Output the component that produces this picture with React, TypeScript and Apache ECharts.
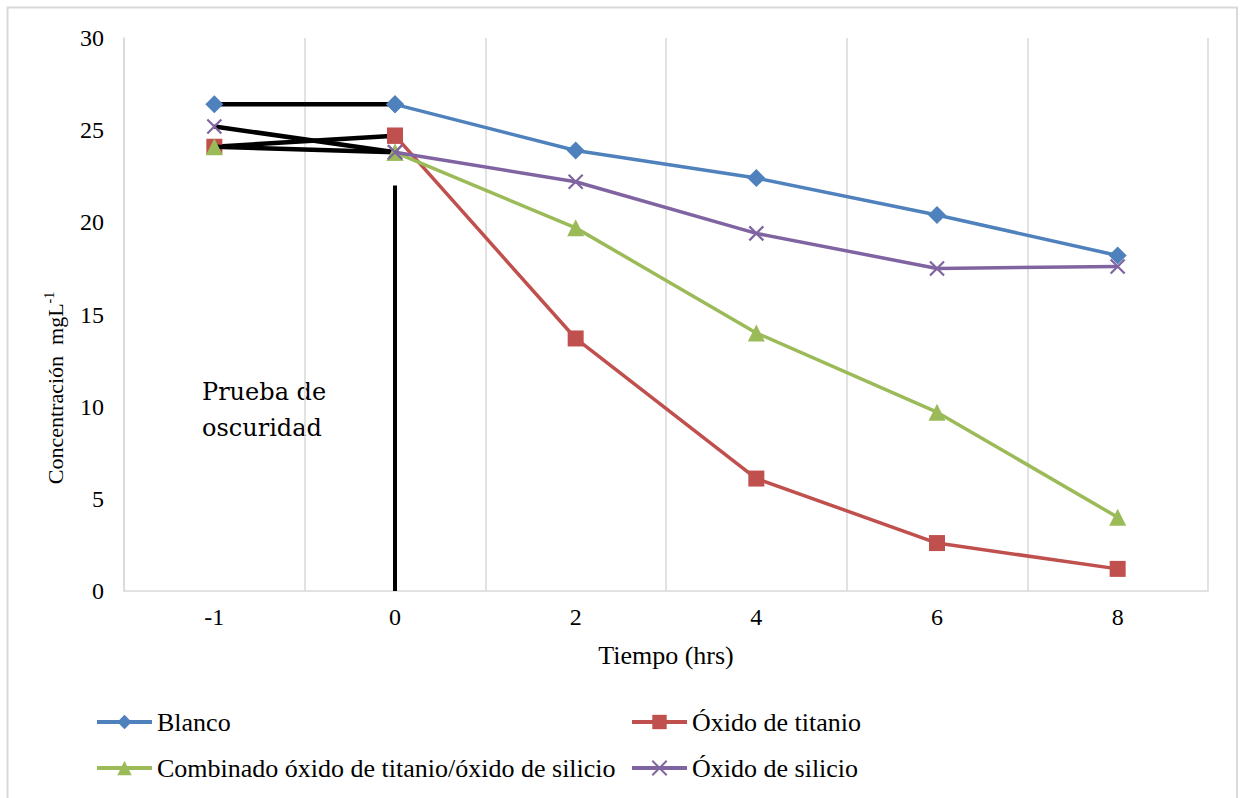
import React, { useEffect, useRef } from "react";
import * as echarts from "echarts";

const categories = ["-1", "0", "2", "4", "6", "8"];
const blanco = [26.4, 26.4, 23.9, 22.4, 20.4, 18.2];
const titanio = [24.1, 24.7, 13.7, 6.1, 2.6, 1.2];
const combinado = [24.1, 23.8, 19.7, 14.0, 9.7, 4.0];
const silicio = [25.2, 23.8, 22.2, 19.4, 17.5, 17.6];
const darkTestLine = [
  ["0", 22],
  ["0", 0],
];
const yTicks = { min: 0, max: 30, interval: 5 };

const SERIF = "Liberation Serif";

const seriesDefs = [
  { name: "Blanco", data: blanco, color: "#4F81BD", symbol: "diamond", size: [18, 18] },
  { name: "Óxido de titanio", data: titanio, color: "#C0504D", symbol: "rect", size: 16 },
  { name: "Combinado óxido de titanio/óxido de silicio", data: combinado, color: "#9BBB59", symbol: "triangle", size: 17 },
  { name: "Óxido de silicio", data: silicio, color: "#8064A2", symbol: "path://M0,0L10,10M10,0L0,10", size: 14 },
];

export default function App() {
  const ref = useRef<HTMLDivElement>(null);
  useEffect(() => {
    document.body.style.margin = "0";
    const chart = echarts.init(ref.current!, null, { renderer: "svg" });
    const series: any[] = [];
    seriesDefs.forEach((s, i) => {
      const isX = s.symbol.startsWith("path://");
      const itemStyle = isX
        ? { color: "rgba(0,0,0,0)", borderColor: s.color, borderWidth: 2.2 }
        : { color: s.color };
      // black segment from -1 to 0
      series.push({
        name: s.name + "_dark",
        type: "line",
        data: s.data.map((v, j) => (j < 2 ? v : "-")),
        symbol: s.symbol,
        symbolSize: s.size,
        showSymbol: true,
        lineStyle: { color: "#000", width: 4.5 },
        itemStyle,
        z: 2 + i * 0.01,
        silent: true,
      });
      series.push({
        name: s.name,
        type: "line",
        data: s.data.map((v, j) => (j < 1 ? "-" : v)),
        symbol: s.symbol,
        symbolSize: s.size,
        showSymbol: true,
        lineStyle: { color: s.color, width: 3.5 },
        itemStyle,
        color: s.color,
        z: 3 + i * 0.01,
      });
    });
    series.push({
      name: "prueba",
      type: "line",
      data: darkTestLine,
      symbol: "none",
      lineStyle: { color: "#000", width: 4 },
      z: 4,
      silent: true,
    });

    const legendCommon = {
      orient: "vertical",
      itemWidth: 55,
      itemHeight: 18,
      itemGap: 20,
      padding: 0,
      top: 709,
      lineStyle: { width: 4 },
      textStyle: { fontFamily: SERIF, fontSize: 26, color: "#000", padding: [0, 0, 0, 0] },
    };

    chart.setOption({
      animation: false,
      backgroundColor: "#fff",
      grid: { left: 124, right: 32, top: 38, bottom: 207, containLabel: false },
      legend: [
        { ...legendCommon, left: 95, data: [seriesDefs[0].name, seriesDefs[2].name] },
        { ...legendCommon, left: 630, data: [seriesDefs[1].name, seriesDefs[3].name] },
      ],
      xAxis: {
        type: "category",
        data: categories,
        boundaryGap: true,
        name: "Tiempo (hrs)",
        nameLocation: "middle",
        nameGap: 51,
        nameTextStyle: { fontFamily: SERIF, fontSize: 26, color: "#000" },
        axisLine: { lineStyle: { color: "#d9d9d9", width: 1.5 } },
        axisTick: { show: false },
        axisLabel: { fontFamily: SERIF, fontSize: 24, color: "#000", margin: 14 },
        splitLine: { show: true, interval: 0, lineStyle: { color: "#d9d9d9", width: 1.5 } },
      },
      yAxis: {
        type: "value",
        min: yTicks.min,
        max: yTicks.max,
        interval: yTicks.interval,
        axisLine: { show: true, lineStyle: { color: "#d9d9d9", width: 1.5 } },
        axisTick: { show: false },
        axisLabel: { fontFamily: SERIF, fontSize: 24, color: "#000", margin: 20 },
        splitLine: { show: false },
      },
      graphic: [
        {
          type: "rect",
          silent: true,
          shape: { x: 7.5, y: 7.5, width: 1229.5, height: 900 },
          style: { fill: "none", stroke: "#d9d9d9", lineWidth: 2 },
        },
        {
          type: "text",
          silent: true,
          x: 55,
          y: 388,
          rotation: Math.PI / 2,
          style: {
            text: "{a|Concentración  mgL}{s|-1}",
            align: "center",
            verticalAlign: "middle",
            rich: {
              a: { fontFamily: SERIF, fontSize: 22, fill: "#000" },
              s: { fontFamily: SERIF, fontSize: 14, fill: "#000", verticalAlign: "top", padding: [0, 0, 12, 0] },
            },
          },
        },
        {
          type: "text",
          silent: true,
          x: 202,
          y: 374,
          style: {
            text: "Prueba de\noscuridad",
            fontFamily: "DejaVu Serif",
            fontSize: 24,
            lineHeight: 36,
            fill: "#000",
          },
        },
      ],
      series,
    });
    return () => chart.dispose();
  }, []);
  return (
    <div
      ref={ref}
      style={{ position: "absolute", left: 0, top: 0, width: 1240, height: 798 }}
    />
  );
}
